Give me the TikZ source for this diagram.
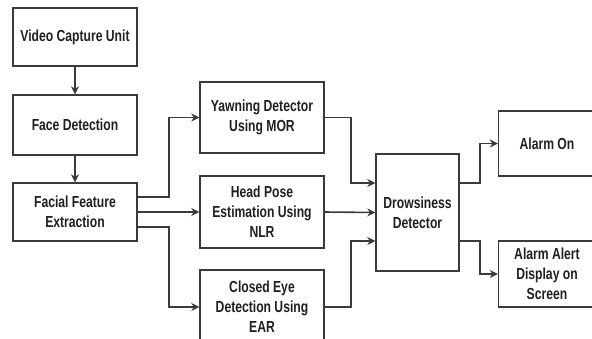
\documentclass[tikz,border=0pt]{standalone}
\usepackage{fontspec}
\setmainfont{Liberation Sans}[FakeStretch=0.76]
\usetikzlibrary{arrows.meta}
\definecolor{boxline}{HTML}{3A3A3A}
\definecolor{txt}{HTML}{202020}
\begin{document}
\begin{tikzpicture}[x=1pt,y=-1pt,
  blk/.style={draw=boxline,line width=1.4pt,fill=white,align=center,text=txt,
    font=\fontsize{16}{20}\selectfont\bfseries,inner sep=0pt},
  arr/.style={draw=boxline,line width=1.6pt,-{Stealth[length=8pt,width=8pt]}}]
\useasboundingbox (0,0) rectangle (592,338);
\clip (0,0) rectangle (592,338);
\node[blk,minimum width=124pt,minimum height=58pt] (vcu) at (75,37) {Video Capture Unit};
\node[blk,minimum width=124pt,minimum height=60pt] (fd) at (75,125) {Face Detection};
\node[blk,minimum width=124pt,minimum height=58pt] (ffe) at (75,212) {Facial Feature\\Extraction};
\node[blk,minimum width=124pt,minimum height=71pt] (yd) at (262,117.5) {Yawning Detector\\Using MOR};
\node[blk,minimum width=124pt,minimum height=72pt] (hp) at (262,212) {Head Pose\\Estimation Using\\NLR};
\node[blk,minimum width=124pt,minimum height=74pt] (ce) at (262,307) {Closed Eye\\Detection Using\\EAR};
\node[blk,minimum width=83pt,minimum height=117pt] (dd) at (417.5,212.5) {Drowsiness\\Detector};
\node[blk,minimum width=97pt,minimum height=65pt] (ao) at (547,143.5) {Alarm On};
\node[blk,minimum width=97pt,minimum height=66pt] (aa) at (547,274) {Alarm Alert\\Display on\\Screen};
\draw[arr] (vcu.south) -- (fd.north);
\draw[arr] (fd.south) -- (ffe.north);
\draw[arr] ([yshift=15pt]ffe.east) -- ++(31,0) |- (yd.west);
\draw[arr] (ffe.east) -- (hp.west);
\draw[arr] ([yshift=-15pt]ffe.east) -- ++(31,0) |- (ce.west);
\draw[arr] (yd.east) -- ++(26,0) |- ([yshift=29.5pt]dd.west);
\draw[arr] (hp.east) -- (dd.west);
\draw[arr] (ce.east) -- ++(26,0) |- ([yshift=-28.5pt]dd.west);
\draw[arr] ([yshift=29.5pt]dd.east) -- ++(20,0) |- (ao.west);
\draw[arr] ([yshift=-28.5pt]dd.east) -- ++(20,0) |- (aa.west);
\end{tikzpicture}
\end{document}
